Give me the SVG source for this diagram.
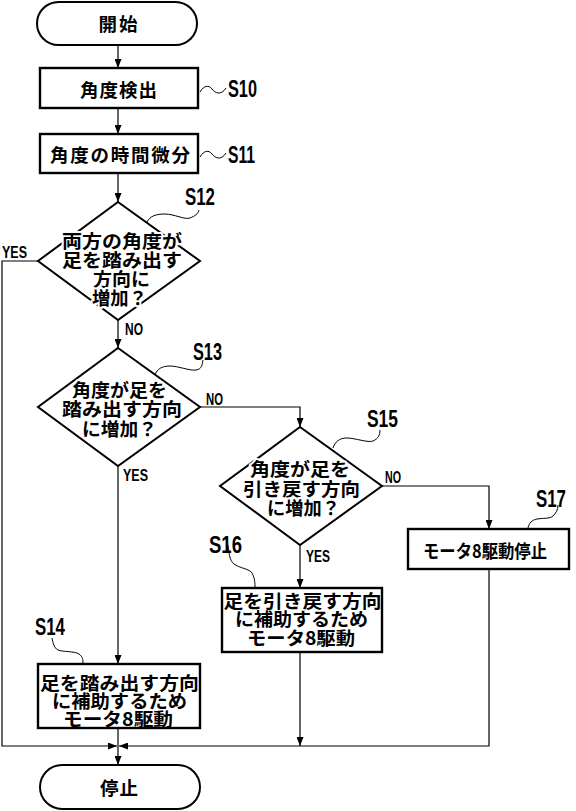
<svg xmlns="http://www.w3.org/2000/svg" width="576" height="811" viewBox="0 0 576 811">
<style>
.bg{fill:#fff}
.box{fill:#fff;stroke:#000;stroke-width:2.4}
.term{fill:#fff;stroke:#000;stroke-width:2}
.dia{fill:#fff;stroke:#000;stroke-width:2}
.t{font-family:"Noto Sans CJK JP","Noto Sans CJK SC",sans-serif;font-size:18.5px;font-weight:bold;text-anchor:middle;dominant-baseline:central;fill:#000}
.h{stroke:#fff;stroke-width:4;paint-order:stroke;stroke-linejoin:round}
.lbl{font-family:"Liberation Sans",Arial,sans-serif;font-size:23px;font-weight:bold;fill:#000}
.yn{font-family:"Liberation Sans",Arial,sans-serif;font-size:16.5px;font-weight:bold;fill:#000}
.c{fill:none;stroke:#000;stroke-width:1.2}
.sq{fill:none;stroke:#000;stroke-width:1}
</style>
<defs>
<marker id="ah" markerUnits="userSpaceOnUse" markerWidth="9" markerHeight="7" refX="9" refY="3.5" orient="auto">
<path d="M0,0 L9,3.5 L0,7 z" fill="#000"/>
</marker>
</defs>
<rect class="bg" x="0" y="0" width="576" height="811"/>

<g id="connectors">
<path class="c" d="M118 45 V68" marker-end="url(#ah)"/>
<path class="c" d="M118 108 V134" marker-end="url(#ah)"/>
<path class="c" d="M118 173 V202" marker-end="url(#ah)"/>
<path class="c" d="M118 320 V348" marker-end="url(#ah)"/>
<path class="c" d="M118 466 V664" marker-end="url(#ah)"/>
<path class="c" d="M200 407 H300 V427" marker-end="url(#ah)"/>
<path class="c" d="M300 545 V588" marker-end="url(#ah)"/>
<path class="c" d="M382 486 H489 V529" marker-end="url(#ah)"/>
<path class="c" d="M300 652 V746" marker-end="url(#ah)"/>
<path class="c" d="M38 261 H2 V746 H117" marker-end="url(#ah)"/>
<path class="c" d="M489 569 V746 H119" marker-end="url(#ah)"/>
<path class="c" d="M118 728 V765" marker-end="url(#ah)"/>
<text class="yn" x="2" y="258" textLength="25" lengthAdjust="spacingAndGlyphs">YES</text>
<text class="yn" x="125" y="335" textLength="18" lengthAdjust="spacingAndGlyphs">NO</text>
<text class="yn" x="206" y="405" textLength="17" lengthAdjust="spacingAndGlyphs">NO</text>
<text class="yn" x="123" y="481" textLength="25" lengthAdjust="spacingAndGlyphs">YES</text>
<text class="yn" x="385" y="483" textLength="16" lengthAdjust="spacingAndGlyphs">NO</text>
<text class="yn" x="306" y="562" textLength="24" lengthAdjust="spacingAndGlyphs">YES</text>
</g>

<g id="start">
<rect class="term" x="37" y="2" width="160" height="43" rx="21.5"/>
<text class="t" x="118" y="23" textLength="39" lengthAdjust="spacing">開始</text>
</g>

<g id="S10">
<rect class="box" x="40" y="68" width="158" height="40"/>
<text class="t" x="118.5" y="89" textLength="77" lengthAdjust="spacing">角度検出</text>
<path class="sq" d="M200 92 C204 85 209 85 212 89 S221 96 226 88"/>
<text class="lbl" x="228" y="97" textLength="29" lengthAdjust="spacingAndGlyphs">S10</text>
</g>

<g id="S11">
<rect class="box" x="40" y="134" width="158" height="39"/>
<text class="t" x="120" y="154" textLength="140" lengthAdjust="spacing">角度の時間微分</text>
<path class="sq" d="M200 157 C204 150 209 150 212 154 S221 161 226 153"/>
<text class="lbl" x="228" y="163" textLength="27" lengthAdjust="spacingAndGlyphs">S11</text>
</g>

<g id="S12">
<path class="dia" d="M118 202 L200 261 L118 320 L38 261 Z"/>
<g class="t h">
<text x="122" y="240" textLength="120" lengthAdjust="spacingAndGlyphs">両方の角度が</text>
<text x="122" y="259" textLength="120" lengthAdjust="spacingAndGlyphs">足を踏み出す</text>
<text x="121.5" y="278" textLength="57" lengthAdjust="spacingAndGlyphs">方向に</text>
<text x="119.5" y="297" textLength="55" lengthAdjust="spacingAndGlyphs">増加？</text>
</g>
<path class="sq" d="M147 222 C150 216 156 214 165 214 S185 220 190 218 S198 214 199 210"/>
<text class="lbl" x="185" y="205" textLength="30" lengthAdjust="spacingAndGlyphs">S12</text>
</g>

<g id="S13">
<path class="dia" d="M118 348 L200 407 L118 466 L38 407 Z"/>
<g class="t h">
<text x="119.5" y="389" textLength="95" lengthAdjust="spacingAndGlyphs">角度が足を</text>
<text x="122" y="408" textLength="120" lengthAdjust="spacingAndGlyphs">踏み出す方向</text>
<text x="119.5" y="428" textLength="75" lengthAdjust="spacingAndGlyphs">に増加？</text>
</g>
<path class="sq" d="M155 375 C157 369 162 366 170 366 S190 371 196 370 S202 365 203 360"/>
<text class="lbl" x="193" y="360" textLength="29" lengthAdjust="spacingAndGlyphs">S13</text>
</g>

<g id="S15">
<path class="dia" d="M300 427 L382 486 L300 545 L220 486 Z"/>
<g class="t h">
<text x="300" y="468" textLength="100" lengthAdjust="spacingAndGlyphs">角度が足を</text>
<text x="301.5" y="488" textLength="117" lengthAdjust="spacingAndGlyphs">引き戻す方向</text>
<text x="303.5" y="507" textLength="73" lengthAdjust="spacingAndGlyphs">に増加？</text>
</g>
<path class="sq" d="M333 448 C335 442 339 438 347 438 S368 443 373 441 S380 435 380 430"/>
<text class="lbl" x="367" y="427" textLength="31" lengthAdjust="spacingAndGlyphs">S15</text>
</g>

<g id="S16">
<rect class="box" x="222" y="588" width="160" height="64"/>
<g class="t">
<text x="302.5" y="600" textLength="158" lengthAdjust="spacingAndGlyphs">足を引き戻す方向</text>
<text x="301.5" y="618" textLength="133" lengthAdjust="spacingAndGlyphs">に補助するため</text>
<text x="301" y="637" textLength="108" lengthAdjust="spacingAndGlyphs">モータ8駆動</text>
</g>
<path class="sq" d="M228 545 C229 552 229 560 234 564 S250 569 252 573 S255 580 255 587"/>
<text class="lbl" x="209" y="553" textLength="33" lengthAdjust="spacingAndGlyphs">S16</text>
</g>

<g id="S17">
<rect class="box" x="408" y="529" width="161" height="40"/>
<text class="t" x="485" y="550" textLength="124" lengthAdjust="spacingAndGlyphs">モータ8駆動停止</text>
<path class="sq" d="M528 528 C529 523 532 520 537 519 S550 519 553 516 S558 510 558 505"/>
<text class="lbl" x="536" y="507" textLength="30" lengthAdjust="spacingAndGlyphs">S17</text>
</g>

<g id="S14">
<rect class="box" x="38" y="664" width="162" height="64"/>
<g class="t">
<text x="119.5" y="682" textLength="159" lengthAdjust="spacingAndGlyphs">足を踏み出す方向</text>
<text x="119.5" y="700" textLength="135" lengthAdjust="spacingAndGlyphs">に補助するため</text>
<text x="118" y="718" textLength="110" lengthAdjust="spacingAndGlyphs">モータ8駆動</text>
</g>
<path class="sq" d="M52 638 C53 643 54 648 58 650 S75 651 79 654 S83 660 83 663"/>
<text class="lbl" x="35" y="635" textLength="30" lengthAdjust="spacingAndGlyphs">S14</text>
</g>

<g id="stop">
<rect class="term" x="40" y="765" width="160" height="44" rx="22"/>
<text class="t" x="119" y="787" textLength="38" lengthAdjust="spacing">停止</text>
</g>
</svg>
